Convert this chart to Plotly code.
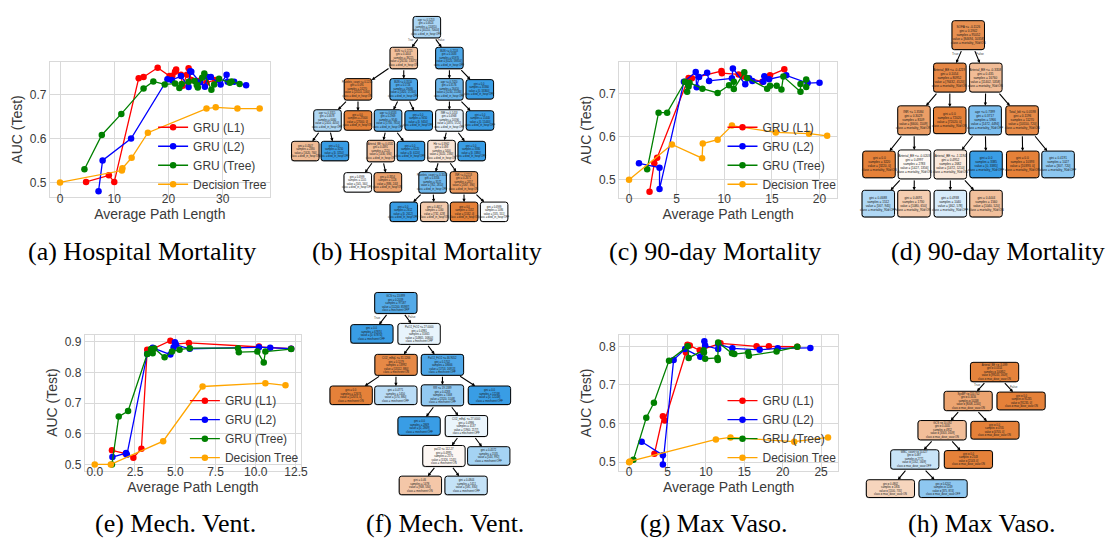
import plotly.graph_objects as go

W, H = 1117, 541

# ------------------------------------------------------------------
# Line-chart data
# ------------------------------------------------------------------
series_names = ["GRU (L1)", "GRU (L2)", "GRU (Tree)", "Decision Tree"]

# (a) Hospital Mortality
a_l1_x = [4.8, 9.0, 10.0, 14.5, 15.4, 18.0, 20.2, 20.7, 21.2, 21.4, 22.3, 22.6, 23.4, 23.7, 24.2, 25.5, 27.0, 28.6]
a_l1_y = [0.501, 0.516, 0.501, 0.737, 0.740, 0.761, 0.742, 0.743, 0.752, 0.757, 0.745, 0.720, 0.745, 0.760, 0.733, 0.731, 0.727, 0.733]
a_l2_x = [7.1, 7.85, 13.1, 19.8, 20.6, 22.3, 23.7, 24.0, 24.2, 25.8, 26.7, 27.2, 27.8, 29.6, 30.7, 30.9, 32.1, 34.3]
a_l2_y = [0.480, 0.550, 0.600, 0.735, 0.733, 0.742, 0.717, 0.753, 0.752, 0.728, 0.718, 0.740, 0.740, 0.723, 0.745, 0.729, 0.729, 0.721]
a_tr_x = [4.5, 7.7, 11.3, 15.4, 17.2, 19.3, 21.2, 22.0, 22.4, 23.7, 24.8, 25.2, 25.4, 26.2, 26.6, 27.9, 28.4, 29.3, 31.3, 31.6, 33.1]
a_tr_y = [0.530, 0.608, 0.656, 0.714, 0.730, 0.723, 0.725, 0.715, 0.724, 0.729, 0.731, 0.722, 0.716, 0.738, 0.748, 0.711, 0.723, 0.736, 0.727, 0.730, 0.724]
a_dt_x = [0.0, 11.4, 11.5, 13.2, 16.2, 27.0, 28.7, 32.7, 36.8]
a_dt_y = [0.500, 0.527, 0.532, 0.556, 0.613, 0.668, 0.671, 0.668, 0.668]

# (c) 90-day Mortality
c_l1_x = [2.15, 2.65, 2.95, 6.25, 6.6, 9.7, 9.75, 11.5, 12.0, 14.0, 14.8, 16.3]
c_l1_y = [0.472, 0.538, 0.551, 0.737, 0.736, 0.753, 0.748, 0.745, 0.740, 0.728, 0.743, 0.757]
c_l2_x = [1.04, 3.2, 3.2, 5.76, 7.0, 7.1, 7.35, 8.2, 8.4, 10.8, 10.9, 12.2, 12.6, 12.95, 14.1, 14.2, 14.7, 16.5, 18.75, 20.0]
c_l2_y = [0.538, 0.528, 0.478, 0.728, 0.751, 0.715, 0.739, 0.749, 0.730, 0.736, 0.759, 0.722, 0.736, 0.730, 0.728, 0.741, 0.734, 0.743, 0.725, 0.726]
c_tr_x = [1.9, 3.1, 4.0, 5.87, 6.1, 6.25, 6.35, 7.7, 9.3, 10.5, 11.0, 11.0, 12.1, 12.4, 14.5, 14.8, 15.5, 16.0, 16.2, 18.0, 18.0, 18.6, 18.6]
c_tr_y = [0.524, 0.656, 0.656, 0.728, 0.705, 0.717, 0.726, 0.712, 0.702, 0.720, 0.728, 0.711, 0.750, 0.737, 0.712, 0.719, 0.719, 0.710, 0.740, 0.705, 0.723, 0.733, 0.716]
c_dt_x = [0.0, 4.5, 7.67, 7.74, 9.3, 10.8, 15.4, 18.9, 20.8]
c_dt_y = [0.500, 0.582, 0.550, 0.584, 0.593, 0.626, 0.610, 0.607, 0.602]

# (e) Mech. Vent.
e_l1_x = [1.07, 1.92, 2.4, 2.9, 3.26, 3.68, 4.7, 5.0, 5.85, 10.2, 12.2]
e_l1_y = [0.546, 0.535, 0.522, 0.551, 0.874, 0.878, 0.903, 0.892, 0.896, 0.884, 0.877]
e_l2_x = [1.1, 1.95, 2.0, 3.26, 3.6, 4.7, 4.9, 4.98, 5.05, 5.9, 10.2, 10.9, 12.2]
e_l2_y = [0.524, 0.537, 0.532, 0.860, 0.880, 0.858, 0.882, 0.898, 0.890, 0.877, 0.882, 0.880, 0.877]
e_tr_x = [1.07, 1.49, 2.07, 3.26, 3.5, 3.6, 3.7, 4.34, 4.8, 5.27, 5.9, 8.9, 8.95, 10.1, 10.5, 10.6, 12.2]
e_tr_y = [0.500, 0.656, 0.674, 0.860, 0.876, 0.862, 0.878, 0.849, 0.868, 0.874, 0.879, 0.879, 0.866, 0.868, 0.832, 0.868, 0.876]
e_dt_x = [0.0, 1.0, 4.25, 6.7, 10.6, 11.85]
e_dt_y = [0.500, 0.500, 0.576, 0.754, 0.765, 0.758]

# (g) Max Vaso.
g_l1_x = [3.3, 4.4, 4.65, 7.4, 7.6, 7.9, 9.2, 11.9, 16.6, 18.2, 21.9]
g_l1_y = [0.522, 0.619, 0.608, 0.784, 0.804, 0.802, 0.790, 0.808, 0.800, 0.800, 0.799]
g_l2_x = [1.64, 4.4, 4.4, 5.8, 7.3, 9.27, 9.8, 9.9, 11.6, 11.6, 13.45, 17.0, 19.35, 23.6]
g_l2_y = [0.553, 0.518, 0.494, 0.765, 0.793, 0.773, 0.813, 0.802, 0.793, 0.806, 0.795, 0.791, 0.795, 0.796]
g_tr_x = [0.56, 2.24, 3.23, 5.2, 7.63, 7.76, 9.7, 9.75, 9.9, 11.5, 11.55, 11.6, 13.4, 13.7, 15.5, 15.6, 19.2, 21.9]
g_tr_y = [0.506, 0.615, 0.654, 0.763, 0.800, 0.770, 0.790, 0.784, 0.768, 0.770, 0.765, 0.810, 0.782, 0.780, 0.784, 0.776, 0.787, 0.799]
g_dt_x = [0.0, 0.1, 11.3, 13.2, 21.5, 25.9]
g_dt_y = [0.500, 0.502, 0.559, 0.564, 0.553, 0.564]

captions = ["(a) Hospital Mortality", "(b) Hospital Mortality", "(c) 90-day Mortality", "(d) 90-day Mortality",
            "(e) Mech. Vent.", "(f) Mech. Vent.", "(g) Max Vaso.", "(h) Max Vaso."]

# ------------------------------------------------------------------
# Decision-tree data: parent index, split rule (None = leaf), class counts
# ------------------------------------------------------------------
tree_b_parent = [-1, 0, 0, 1, 1, 2, 2, 3, 3, 4, 4, 5, 5, 7, 7, 9, 9, 11, 11, 15, 15, 17, 17, 21, 21, 22, 22]
tree_b_split = ["age <= 0.5253", "BUN <= 0.1725", "BUN <= 0.2118", "Platelets_count <= 0.1234", "BUN <= 0.3510",
                "age <= 0.7420", None, "age <= 0.3315", None, "age <= 0.6533", None, "INR <= 0.1453", None,
                None, None, "Arterial_BE <= 0.0532", None, "Hb <= 0.3962", None, None, None,
                "Platelets_count <= 0.3108", "INR <= 0.2218", None, None, None, None]
tree_b_value = [[40210, 70600], [26150, 13075], [6120, 59850], [23110, 1160], [1820, 17260], [5230, 21180],
                [0, 33360], [2410, 4050], [27000, 0], [1730, 7810], [0, 9450], [4870, 5720], [0, 15440],
                [1620, 760], [0, 3250], [1430, 690], [0, 6120], [3020, 2380], [0, 3380], [545, 560],
                [886, 240], [762, 2810], [2067, 390], [0, 2612], [732, 428], [1532, 0], [535, 551]]
tree_b_classes = ["died_in_hosp:ON", "died_in_hosp:OFF"]

tree_d_parent = [-1, 0, 0, 1, 1, 2, 2, 3, 3, 5, 5, 6, 6, 8, 8, 9, 9]
tree_d_split = ["SOFA <= -0.1126", "Arterial_BE <= -0.4219", "Arterial_BE <= -0.3358", "INR <= 1.3584", None,
                "age <= 0.7399", "Total_bili <= 0.0598", None, "Arterial_BE <= -0.0203", "Arterial_BE <= -1.1194",
                None, None, None, None, None, None, None]
tree_d_value = [[84694, 10358], [76432, 4520], [11402, 5358], [6600, 1509], [72020, 0], [1472, 4494],
                [10550, 720], [3220, 0], [1427, 1356], [1472, 1210], [0, 3385], [10393, 0], [307, 720],
                [567, 945], [1080, 650], [462, 578], [1040, 520]]
tree_d_classes = ["mortality_90d:ON", "mortality_90d:OFF"]

tree_f_parent = [-1, 0, 0, 2, 2, 3, 3, 4, 4, 7, 7, 10, 10, 11, 11]
tree_f_split = ["GCS <= 13.899", None, "PaO2_FiO2 <= 27.0000", "CO2_mEqL <= 31.1266", "PaO2_FiO2 <= 46.9052",
                None, None, "RR <= 19.1389", None, None, "CO2_mEqL <= 27.0000", "paO2 <= 112.27", None, None, None]
tree_f_value = [[11200, 85987], [0, 67874], [14865, 16800], [13112, 880], [1753, 16913], [12674, 0],
                [570, 880], [2320, 5148], [0, 12248], [0, 2869], [1960, 2177], [1326, 1245], [543, 992],
                [948, 530], [581, 830]]
tree_f_classes = ["mechvent:ON", "mechvent:OFF"]

tree_h_parent = [-1, 0, 0, 1, 1, 3, 3, 5, 5]
tree_h_split = ["Arterial_BE <= -5.099", "SysBP <= 110.752", None, "GCS <= 10.092", None,
                "WBC_count <= 10.427", None, None, None]
tree_h_value = [[99243, 1609], [8008, 2240], [91235, 0], [3303, 1609], [4705, 0], [1162, 1609],
                [2143, 0], [1100, 735], [375, 874]]
tree_h_classes = ["max_dose_vaso:ON", "max_dose_vaso:OFF"]

# ------------------------------------------------------------------
# Layout / style (pixel positions on the page)
# ------------------------------------------------------------------
COLORS = ["red", "blue", "green", "orange"]
SANS = "Liberation Sans Narrow, Liberation Sans, Arial, sans-serif"
SANS_R = "Liberation Sans, Arial, sans-serif"
SERIF = "Liberation Serif, Times New Roman, serif"
TXT = "#3a3a3a"
GRID = "#d9d9d9"

chart_defs = [
    # key, series, box px (x0, x1, y0, y1), x dtick, x fmt, y ticks, legend text-x, legend center-y
    ("", [(a_l1_x, a_l1_y), (a_l2_x, a_l2_y), (a_tr_x, a_tr_y), (a_dt_x, a_dt_y)],
     (42.3, 263.3, 53.7, 189.7), 10, "d", [0.5, 0.6, 0.7], 193, 148),
    ("2", [(c_l1_x, c_l1_y), (c_l2_x, c_l2_y), (c_tr_x, c_tr_y), (c_dt_x, c_dt_y)],
     (615.0, 834.3, 54.4, 190.2), 5, "d", [0.5, 0.6, 0.7], 766, 148),
    ("3", [(e_l1_x, e_l1_y), (e_l2_x, e_l2_y), (e_tr_x, e_tr_y), (e_dt_x, e_dt_y)],
     (77.4, 294.8, 327.2, 463.5), 2.5, ".1f", [0.5, 0.6, 0.7, 0.8, 0.9], 225, 422),
    ("4", [(g_l1_x, g_l1_y), (g_l2_x, g_l2_y), (g_tr_x, g_tr_y), (g_dt_x, g_dt_y)],
     (615.0, 835.2, 327.8, 463.5), 5, "d", [0.5, 0.6, 0.7, 0.8], 766, 422),
]

caption_pos = [(135, 244), (422, 244), (711, 244), (996, 244),
               (169, 516), (440, 516), (710, 516), (980, 516)]

# tree node centres (page px) and box sizes
tree_b_cx = [421.5, 398.3, 444.2, 352.2, 398.2, 444.2, 474.8, 321.5, 352.2, 382.5, 413.3, 444.2, 475.0,
             299.2, 329.0, 375.2, 405.5, 436.3, 466.7, 352.0, 382.3, 427.3, 458.8, 398.3, 429.0, 459.0, 489.2]
tree_b_cy = [19.2, 50.1, 50.1, 81.5, 81.5, 81.5, 81.5, 112.7, 112.7, 112.7, 112.7, 112.7, 112.7,
             143.3, 143.3, 143.3, 143.3, 143.3, 143.3, 174.7, 174.7, 174.7, 174.7, 204.2, 204.2, 204.2, 204.2]
tree_d_cx = [966.3, 947.8, 984.0, 911.7, 947.7, 983.3, 1020.5, 876.5, 912.2, 948.3, 984.2, 1021.2, 1056.7,
             875.8, 911.7, 948.3, 984.2]
tree_d_cy = [27.2, 69.7, 69.7, 112.5, 112.5, 112.5, 112.5, 156.7, 156.7, 156.7, 156.7, 156.7, 156.7,
             196.0, 196.0, 196.0, 196.0]
tree_f_cx = [390.3, 366.2, 413.7, 390.5, 437.2, 345.3, 390.3, 437.2, 484.5, 413.7, 461.3, 438.7, 483.8, 415.0, 461.0]
tree_f_cy = [295.5, 326.5, 326.5, 357.5, 357.5, 388.0, 388.0, 388.0, 388.0, 418.8, 418.8, 448.8, 448.8, 478.3, 478.3]
tree_h_cx = [992.8, 966.2, 1019.5, 940.0, 993.2, 912.5, 966.5, 888.0, 941.0]
tree_h_cy = [364.7, 393.7, 393.7, 423.0, 423.0, 452.3, 452.3, 481.5, 481.5]

tree_defs = [
    # parent, split, value, classes, cx, cy, width, h_internal, h_leaf, font, fontsize, true/false label pos
    (tree_b_parent, tree_b_split, tree_b_value, tree_b_classes, tree_b_cx, tree_b_cy,
     27.7, 21.5, 19.5, SANS, 2.6, ((405.5, 32.3), (436.5, 32.3)), 2.6),
    (tree_d_parent, tree_d_split, tree_d_value, tree_d_classes, tree_d_cx, tree_d_cy,
     32.7, 29.0, 26.7, SANS, 3.1, ((953.3, 46.5), (978.0, 46.5)), 3.2),
    (tree_f_parent, tree_f_split, tree_f_value, tree_f_classes, tree_f_cx, tree_f_cy,
     42.6, 21.0, 18.6, SANS_R, 2.7, ((371.7, 310.5), (407.0, 309.5)), 3.0),
    (tree_h_parent, tree_h_split, tree_h_value, tree_h_classes, tree_h_cx, tree_h_cy,
     48.5, 19.4, 17.8, SANS_R, 2.65, ((975.5, 377.5), (1012.0, 379.5)), 3.0),
]

ORANGE = (229, 129, 57)
BLUE = (57, 157, 229)


def px_x(p):
    return p / W


def px_y(p):
    return 1 - p / H


fig = go.Figure()
layout = dict(width=W, height=H, margin=dict(l=0, r=0, t=0, b=0),
              paper_bgcolor="white", plot_bgcolor="rgba(0,0,0,0)",
              annotations=[], shapes=[])

# ------------------------------------------------------------------
# Line charts
# ------------------------------------------------------------------
for idx, (k, series, box, xdt, xfmt, ytv, leg_tx, leg_cy) in enumerate(chart_defs):
    legname = "legend" if idx == 0 else f"legend{idx + 1}"
    allx = [v for s in series for v in s[0]]
    ally = [v for s in series for v in s[1]]
    xpad = 0.05 * (max(allx) - min(allx))
    ypad = 0.05 * (max(ally) - min(ally))
    for (sx, sy), name, col in zip(series, series_names, COLORS):
        fig.add_trace(go.Scatter(
            x=sx, y=sy, name=name, mode="lines+markers",
            line=dict(color=col, width=1.3), marker=dict(color=col, size=6.5),
            xaxis="x" + k, yaxis="y" + k, legend=legname, showlegend=True))
    x0, x1, y0, y1 = box
    axfont = dict(family=SANS, size=12, color=TXT)
    layout["xaxis" + k] = dict(
        domain=[px_x(x0), px_x(x1)], anchor="y" + k,
        range=[min(allx) - xpad, max(allx) + xpad],
        tick0=0, dtick=xdt, tickformat=xfmt, ticks="", tickfont=axfont, ticklabelstandoff=-10,
        showgrid=True, gridcolor=GRID, gridwidth=1.3, zeroline=False,
        showline=True, mirror=True, linecolor=GRID, linewidth=1.3,
        title=dict(text="Average Path Length", font=dict(family=SANS, size=14, color=TXT), standoff=0))
    layout["yaxis" + k] = dict(
        domain=[px_y(y1), px_y(y0)], anchor="x" + k,
        range=[min(ally) - ypad, max(ally) + ypad],
        tickvals=ytv, tickformat=".1f", ticks="", tickfont=axfont,
        showgrid=True, gridcolor=GRID, gridwidth=1.3, zeroline=False,
        showline=True, mirror=True, linecolor=GRID, linewidth=1.3,
        title=dict(text="AUC (Test)", font=dict(family=SANS, size=14, color=TXT), standoff=3))
    layout[legname] = dict(
        x=px_x(leg_tx - 47), y=px_y(leg_cy), xanchor="left", yanchor="middle",
        bgcolor="rgba(0,0,0,0)", borderwidth=0, tracegroupgap=0,
        font=dict(family=SANS, size=12, color=TXT), itemwidth=30)

# ------------------------------------------------------------------
# Decision trees on an overlay axis measured in page pixels
# ------------------------------------------------------------------
layout["xaxis5"] = dict(domain=[0, 1], range=[0, W], visible=False, anchor="y5", fixedrange=True)
layout["yaxis5"] = dict(domain=[0, 1], range=[H, 0], visible=False, anchor="x5", fixedrange=True)
fig.add_trace(go.Scatter(x=[0, W], y=[0, H], mode="markers", marker=dict(opacity=0),
                         xaxis="x5", yaxis="y5", showlegend=False, hoverinfo="skip"))


def rounded_rect(cx, cy, w, h, r):
    x0, x1, y0, y1 = cx - w / 2, cx + w / 2, cy - h / 2, cy + h / 2
    return (f"M {x0 + r},{y0} L {x1 - r},{y0} Q {x1},{y0} {x1},{y0 + r} "
            f"L {x1},{y1 - r} Q {x1},{y1} {x1 - r},{y1} L {x0 + r},{y1} "
            f"Q {x0},{y1} {x0},{y1 - r} L {x0},{y0 + r} Q {x0},{y0} {x0 + r},{y0} Z")


def clip(cx, cy, w, h, dx, dy):
    ts = []
    if dx:
        ts.append((w / 2) / abs(dx))
    if dy:
        ts.append((h / 2) / abs(dy))
    t = min(ts)
    return cx + dx * t, cy + dy * t


for parent, split, value, classes, cxs, cys, nw, hin, hleaf, nfont, nfs, tf_pos, tf_fs in tree_defs:
    heights = [hin if s else hleaf for s in split]
    # edges
    for i, p in enumerate(parent):
        if p < 0:
            continue
        dx, dy = cxs[i] - cxs[p], cys[i] - cys[p]
        sx, sy = clip(cxs[p], cys[p], nw, heights[p], dx, dy)
        ex, ey = clip(cxs[i], cys[i], nw, heights[i], -dx, -dy)
        layout["annotations"].append(dict(
            x=ex, y=ey, ax=sx, ay=sy, xref="x5", yref="y5", axref="x5", ayref="y5",
            text="", showarrow=True, arrowhead=2, arrowsize=0.6, arrowwidth=1.1,
            arrowcolor="black", standoff=0, startstandoff=0))
    # nodes
    for i in range(len(parent)):
        o, b = value[i]
        tot = o + b
        hi, lo = max(o, b), min(o, b)
        alpha = (hi - lo) / hi if hi else 0
        base = ORANGE if o >= b else BLUE
        rgb = [round(255 - alpha * (255 - c)) for c in base]
        gini = 1 - (o / tot) ** 2 - (b / tot) ** 2
        cls = classes[0] if o >= b else classes[1]
        lines = []
        if split[i]:
            lines.append(split[i])
        lines += [f"gini = {round(gini, 4)}", f"samples = {tot}", f"value = [{o}, {b}]", f"class = {cls}"]
        layout["shapes"].append(dict(
            type="path", path=rounded_rect(cxs[i] - 0.6, cys[i] + 0.7, nw, heights[i], 2.5),
            xref="x5", yref="y5", fillcolor="rgba(90,90,90,0.55)", line=dict(width=0), layer="above"))
        layout["shapes"].append(dict(
            type="path", path=rounded_rect(cxs[i], cys[i], nw, heights[i], 2.5),
            xref="x5", yref="y5", fillcolor=f"rgb({rgb[0]},{rgb[1]},{rgb[2]})",
            line=dict(color="black", width=1.0), layer="above"))
        layout["annotations"].append(dict(
            x=cxs[i], y=cys[i], xref="x5", yref="y5", text="<br>".join(lines),
            showarrow=False, align="center", font=dict(family=nfont, size=nfs, color="#1a1a1a")))
    for (tx, ty), lab in zip(tf_pos, ["True", "False"]):
        layout["annotations"].append(dict(
            x=tx, y=ty, xref="x5", yref="y5", text=lab, showarrow=False,
            font=dict(family=SANS, size=tf_fs, color="#444")))

# ------------------------------------------------------------------
# Captions
# ------------------------------------------------------------------
for cap, (cx, cy) in zip(captions, caption_pos):
    layout["annotations"].append(dict(
        x=px_x(cx), y=px_y(cy), xref="paper", yref="paper", text=cap, showarrow=False,
        xanchor="center", yanchor="middle", font=dict(family=SERIF, size=26, color="black")))

fig.update_layout(**layout)
fig.write_html("out.html")
